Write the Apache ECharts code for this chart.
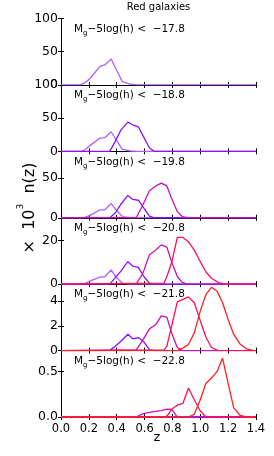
<!DOCTYPE html>
<html><head><meta charset="utf-8">
<script src="https://cdn.jsdelivr.net/npm/echarts@6/dist/echarts.min.js"></script>
<style>html,body{margin:0;padding:0;background:#fff}#c{width:274px;height:456px}</style>
</head><body><div id="c"></div>
<script>
// ---- data ----
const magLimits = ['−17.8', '−18.8', '−19.8', '−20.8', '−21.8', '−22.8'];
const yMax = [100, 100, 83.4, 30.4, 5.35, 0.732];
const yStep = [50, 50, 50, 20, 2, 0.5];
const xTicks = [0.0, 0.2, 0.4, 0.6, 0.8, 1.0, 1.2, 1.4];
const seriesColors = ['#b060ff', '#8a10ff', '#cc10b8', '#ff1055', '#ff2020'];

const z1 = [0, 0.14, 0.17, 0.21, 0.28, 0.315, 0.36, 0.395, 0.44, 0.5, 0.55, 1.4];
const s1_p1 = [0, 0, 3, 10, 28, 30, 39, 24, 5, 1, 0, 0];
const s1_p2 = [0, 0, 2, 9, 20, 20.5, 29.5, 18, 3, 0.5, 0, 0];
const s1_p3 = [0, 0, 0.5, 3, 10, 10, 18, 10, 1.5, 0, 0, 0];
const s1_p4 = [0, 0, 0.3, 1.5, 3.2, 3.4, 6.5, 3.2, 0.5, 0, 0, 0];
const s1_p5 = [0, 0, 0, 0, 0, 0, 0, 0, 0, 0, 0, 0];
const s1_p6 = [0, 0, 0, 0, 0, 0, 0, 0, 0, 0, 0, 0];

const z2 = [0, 0.35, 0.39, 0.43, 0.48, 0.515, 0.555, 0.595, 0.635, 0.67, 1.4];
const s2_p2 = [0, 0, 15, 32, 44, 40, 37, 21, 5, 0, 0];
const s2_p3 = [0, 0, 6, 17, 28, 23, 22, 12, 2, 0, 0];
const s2_p4 = [0, 0, 3, 6, 10.3, 8.3, 7.7, 3.5, 0.5, 0, 0];
const s2_p5 = [0, 0.02, 0.35, 0.75, 1.32, 0.95, 1.05, 0.7, 0.05, 0, 0];
const s2_p6 = [0, 0, 0, 0, 0, 0, 0, 0, 0, 0, 0];

const z3 = [0, 0.54, 0.585, 0.635, 0.68, 0.72, 0.76, 0.795, 0.835, 0.87, 0.91, 1.4];
const s3_p3 = [0, 0, 15, 34, 40, 43.5, 40, 24, 8, 1.5, 0, 0];
const s3_p4 = [0, 0.2, 4.5, 13.5, 15.6, 18, 17, 10, 3.5, 0.8, 0, 0];
const s3_p5 = [0, 0.05, 0.8, 1.75, 2.1, 2.8, 2.7, 1.4, 0.25, 0, 0, 0];
const s3_p6 = [0, 0, 0.035, 0.05, 0.063, 0.07, 0.086, 0.085, 0, 0, 0, 0];

const z4 = [0, 0.74, 0.76, 0.795, 0.835, 0.875, 0.915, 0.957, 1.0, 1.04, 1.08, 1.13, 1.18, 1.4];
const s4_p4 = [0, 0.5, 3.5, 10, 21.4, 21.4, 19.4, 15.6, 10.3, 5.7, 2.7, 0.7, 0, 0];
const s4_p5 = [0, 0.05, 0.36, 2.0, 3.92, 4.13, 4.32, 3.86, 2.4, 1.1, 0.25, 0, 0, 0];
const s4_p6 = [0, 0, 0.01, 0.085, 0.13, 0.15, 0.32, 0.19, 0.066, 0, 0, 0, 0, 0];

const z5 = [0, 0.835, 0.875, 0.915, 0.957, 1.0, 1.04, 1.08, 1.12, 1.16, 1.2, 1.24, 1.285, 1.33, 1.38, 1.4];
const s5_p5 = [0, 0, 0.2, 0.49, 1.43, 3.2, 4.5, 5.1, 4.8, 3.86, 2.5, 1.3, 0.54, 0.14, 0.02, 0];
const s5_p6 = [0, 0, 0, 0, 0.03, 0.19, 0.37, 0.43, 0.5, 0.65, 0.37, 0.1, 0.02, 0, 0, 0];

// panel -> list of [seriesIndex, zNodes, values]
const panels = [
  [[0, z1, s1_p1]],
  [[0, z1, s1_p2], [1, z2, s2_p2]],
  [[0, z1, s1_p3], [1, z2, s2_p3], [2, z3, s3_p3]],
  [[0, z1, s1_p4], [1, z2, s2_p4], [2, z3, s3_p4], [3, z4, s4_p4]],
  [[0, z1, s1_p5], [1, z2, s2_p5], [2, z3, s3_p5], [3, z4, s4_p5], [4, z5, s5_p5]],
  [[0, z1, s1_p6], [1, z2, s2_p6], [2, z3, s3_p6], [3, z4, s4_p6], [4, z5, s5_p6]]
];

// ---- layout ----
const L = 61, W = 195, T0 = 18.5, H = 66.42;
const tickFont = 'DejaVu Sans';
const grids = [], xAxes = [], yAxes = [], series = [], graphics = [];
const axLine = { show: true, lineStyle: { color: '#000', width: 1 } };
const axTick = { show: true, inside: true, length: 3, lineStyle: { color: '#000', width: 1 } };

panels.forEach((p, i) => {
  const top = T0 + i * H;
  grids.push({ left: L, top: top, width: W, height: H, containLabel: false });
  const last = i === panels.length - 1;
  xAxes.push({
    gridIndex: i, type: 'value', position: 'bottom', min: 0, max: 1.4, interval: 0.2,
    axisLine: axLine, axisTick: axTick, splitLine: { show: false },
    axisLabel: { show: last, margin: 6, color: '#000', fontFamily: tickFont, fontSize: 11.5,
      formatter: v => xTicks.includes(Math.round(v * 10) / 10) ? v.toFixed(1) : '' }
  });
  xAxes.push({
    gridIndex: i, type: 'value', position: 'top', min: 0, max: 1.4, interval: 0.2,
    axisLine: axLine, axisTick: axTick, splitLine: { show: false }, axisLabel: { show: false }
  });
  const showMax = (yMax[i] % yStep[i]) === 0;
  yAxes.push({
    gridIndex: i, type: 'value', position: 'left', min: 0, max: yMax[i], interval: yStep[i],
    axisLine: axLine, axisTick: axTick, splitLine: { show: false },
    axisLabel: { show: true, margin: 3, color: '#000', fontFamily: tickFont, fontSize: 12.5,
      showMaxLabel: showMax,
      formatter: v => (yStep[i] < 1 ? v.toFixed(1) : String(Math.round(v))) }
  });
  yAxes.push({
    gridIndex: i, type: 'value', position: 'right', min: 0, max: yMax[i], interval: yStep[i],
    axisLine: axLine, axisTick: axTick, splitLine: { show: false }, axisLabel: { show: false }
  });
  p.forEach(([si, zs, vals]) => {
    series.push({
      type: 'line', xAxisIndex: 2 * i, yAxisIndex: 2 * i,
      data: zs.map((z, k) => [z, vals[k]]),
      showSymbol: false, symbol: 'none', clip: true, silent: true,
      lineStyle: { color: seriesColors[si], width: 1.3 },
      itemStyle: { color: seriesColors[si] }
    });
  });
  graphics.push({
    type: 'text', x: 74, y: top + 5, silent: true,
    style: {
      text: '{m|M}{s|g}{m|−5log(h) <  ' + magLimits[i] + '}',
      verticalAlign: 'top', align: 'left',
      rich: {
        m: { fontFamily: 'DejaVu Sans', fontSize: 10.5, lineHeight: 12, verticalAlign: 'top', fill: '#000' },
        s: { fontFamily: 'DejaVu Sans', fontSize: 7, lineHeight: 8, verticalAlign: 'top', padding: [6, 0, 0, 0], fill: '#000' }
      }
    }
  });
});

graphics.push({
  type: 'text', x: 158.5, y: 7, silent: true,
  style: { text: 'Red galaxies', fontFamily: 'DejaVu Sans', fontSize: 10, fill: '#000',
    align: 'center', verticalAlign: 'middle' }
});
graphics.push({
  type: 'text', x: 157, y: 438, silent: true,
  style: { text: 'z', fontFamily: 'DejaVu Sans', fontSize: 13, fill: '#000',
    align: 'center', verticalAlign: 'middle' }
});
graphics.push({
  type: 'text', x: 27, y: 208, rotation: Math.PI / 2, silent: true,
  style: {
    text: '{b|×  10}{sup|3}{b|  n(z)}',
    align: 'center', verticalAlign: 'middle',
    rich: {
      b: { fontFamily: 'DejaVu Sans', fontSize: 16, lineHeight: 22, verticalAlign: 'bottom', fill: '#000' },
      sup: { fontFamily: 'DejaVu Sans', fontSize: 9, lineHeight: 10, verticalAlign: 'top', fill: '#000' }
    }
  }
});

const chart = echarts.init(document.getElementById('c'), null, { renderer: 'canvas' });
chart.setOption({
  animation: false,
  backgroundColor: '#fff',
  grid: grids, xAxis: xAxes, yAxis: yAxes, series: series, graphic: graphics
});
</script></body></html>
